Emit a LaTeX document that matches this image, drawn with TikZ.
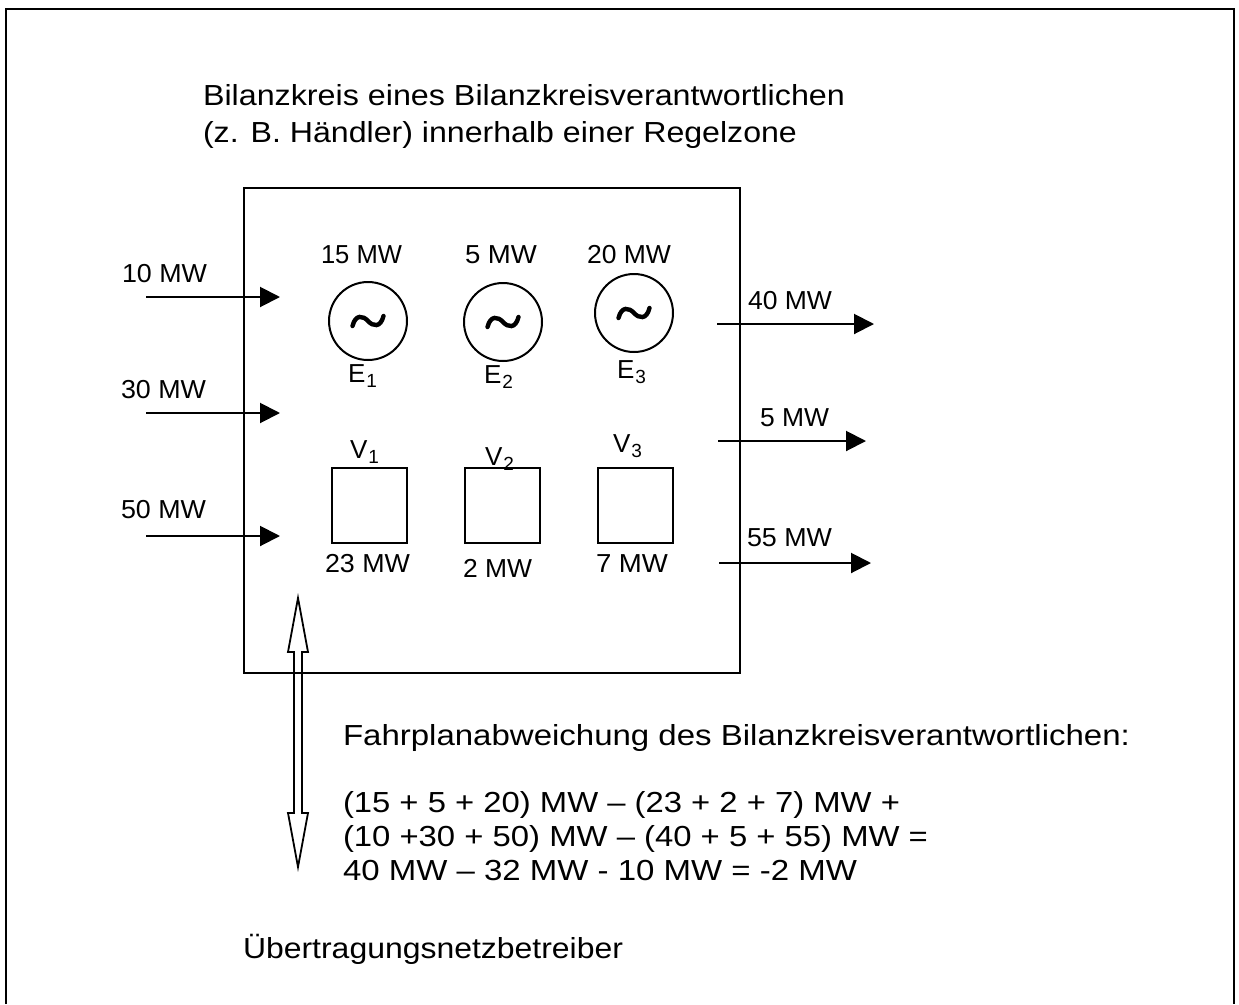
\documentclass[tikz,border=0pt]{standalone}
\usepackage{fontspec}
\setmainfont{Liberation Sans}
\usepackage{graphicx}
\usetikzlibrary{arrows.meta}
\newcommand\tw[2]{\setbox0=\hbox{#2}\pgfmathsetmacro\twfac{#1/\the\wd0}\scalebox{\twfac}[1]{\box0}}
\newcommand\subx[1]{\hspace{1pt}\raisebox{-5pt}{\fontsize{19}{19}\selectfont #1}}
\begin{document}
\begin{tikzpicture}[x=1pt,y=-1pt,
  lbl/.style={inner sep=0pt, outer sep=0pt, font=\fontsize{26}{30}\selectfont},
  big/.style={lbl, font=\fontsize{29}{34}\selectfont},
  flow/.style={line width=2pt, -{Triangle[length=20pt,width=20pt]}},
  gen/.style={circle, draw, line width=2pt, minimum size=78pt, inner sep=0pt},
  load/.style={draw, line width=2pt, minimum size=75pt, inner sep=0pt},
  frame/.style={line width=2.5pt},
  tilde/.style={line width=4.4pt, line cap=round}]
\useasboundingbox (0,0) rectangle (1239,1004);
% outer frame
\draw[frame] (6,1004) -- (6,9) -- (1234,9) -- (1234,1004);
% heading
\node[big, anchor=base west] (h1) at (203,105) {\tw{642pt}{Bilanzkreis eines Bilanzkreisverantwortlichen}};
\node[big, anchor=base west] (h2) at (203,142) {\tw{594pt}{(z. B. Händler) innerhalb einer Regelzone}};
% zone box
\node[draw, line width=2pt, minimum width=496pt, minimum height=485pt, inner sep=0pt, anchor=north west] (zone) at (243,187) {};
% generators
\node[gen] (g1) at (368,321) {};
\node[gen] (g2) at (503,322) {};
\node[gen] (g3) at (634,313) {};
\foreach \g in {g1,g2,g3}{
  \draw[tilde,shift={(\g.center)}] (-15.5,5) .. controls (-12.5,-7) and (-5,-5.5) .. (0,0) .. controls (5,5.5) and (12.5,7) .. (15.5,-5);
}
\node[lbl, anchor=base west] (pg1) at (321,263) {\tw{81pt}{15 MW}};
\node[lbl, anchor=base west] (pg2) at (465,263) {\tw{72pt}{5 MW}};
\node[lbl, anchor=base west] (pg3) at (587,263) {\tw{84pt}{20 MW}};
\node[lbl, anchor=base west] (e1) at (348,382) {E\subx{1}};
\node[lbl, anchor=base west] (e2) at (484,383) {E\subx{2}};
\node[lbl, anchor=base west] (e3) at (617,378) {E\subx{3}};
% loads
\node[load] (l1) at (369.5,505.5) {};
\node[load] (l2) at (502.5,505.5) {};
\node[load] (l3) at (635,505.5) {};
\node[lbl, anchor=base west] (v1) at (350,458) {V\subx{1}};
\node[lbl, anchor=base west] (v2) at (485,465) {V\subx{2}};
\node[lbl, anchor=base west] (v3) at (613,452) {V\subx{3}};
\node[lbl, anchor=base west] (pl1) at (325,572) {\tw{85pt}{23 MW}};
\node[lbl, anchor=base west] (pl2) at (463,577) {\tw{69pt}{2 MW}};
\node[lbl, anchor=base west] (pl3) at (596,572) {\tw{72pt}{7 MW}};
% incoming flows
\node[lbl, anchor=base west] (in1) at (122,282) {\tw{85pt}{10 MW}};
\node[lbl, anchor=base west] (in2) at (121,398) {\tw{85pt}{30 MW}};
\node[lbl, anchor=base west] (in3) at (121,518) {\tw{85pt}{50 MW}};
\coordinate (a1s) at (146,297); \coordinate (a1e) at (280,297);
\coordinate (a2s) at (146,413); \coordinate (a2e) at (280,413);
\coordinate (a3s) at (146,536); \coordinate (a3e) at (280,536);
\draw[flow] (a1s) -- (a1e);
\draw[flow] (a2s) -- (a2e);
\draw[flow] (a3s) -- (a3e);
% outgoing flows
\node[lbl, anchor=base west] (out1) at (748,309) {\tw{84pt}{40 MW}};
\node[lbl, anchor=base west] (out2) at (760,426) {\tw{69pt}{5 MW}};
\node[lbl, anchor=base west] (out3) at (747,546) {\tw{85pt}{55 MW}};
\coordinate (b1s) at (717,324); \coordinate (b1e) at (874,324);
\coordinate (b2s) at (718,441); \coordinate (b2e) at (866,441);
\coordinate (b3s) at (719,563); \coordinate (b3e) at (871,563);
\draw[flow] (b1s) -- (b1e);
\draw[flow] (b2s) -- (b2e);
\draw[flow] (b3s) -- (b3e);
% double arrow (exchange with TSO)
\coordinate (dtop) at (298,598);
\coordinate (dbot) at (298,867);
\draw[line width=1.8pt, line join=miter]
  (dtop) -- (308,652) -- (302,652) -- (302,813) -- (308,813) -- (dbot)
  -- (288,813) -- (294,813) -- (294,652) -- (288,652) -- cycle;
% explanation
\node[big, anchor=base west] (t1) at (343,745) {\tw{787pt}{Fahrplanabweichung des Bilanzkreisverantwortlichen:}};
\node[big, anchor=base west] (t2) at (343,812) {\tw{557pt}{(15 + 5 + 20) MW – (23 + 2 + 7) MW +}};
\node[big, anchor=base west] (t3) at (343,846) {\tw{585pt}{(10 +30 + 50) MW – (40 + 5 + 55) MW =}};
\node[big, anchor=base west] (t4) at (343,880) {\tw{514pt}{40 MW – 32 MW - 10 MW = -2 MW}};
\node[big, anchor=base west] (tso) at (243,958) {\tw{380pt}{Übertragungsnetzbetreiber}};
\end{tikzpicture}
\end{document}
